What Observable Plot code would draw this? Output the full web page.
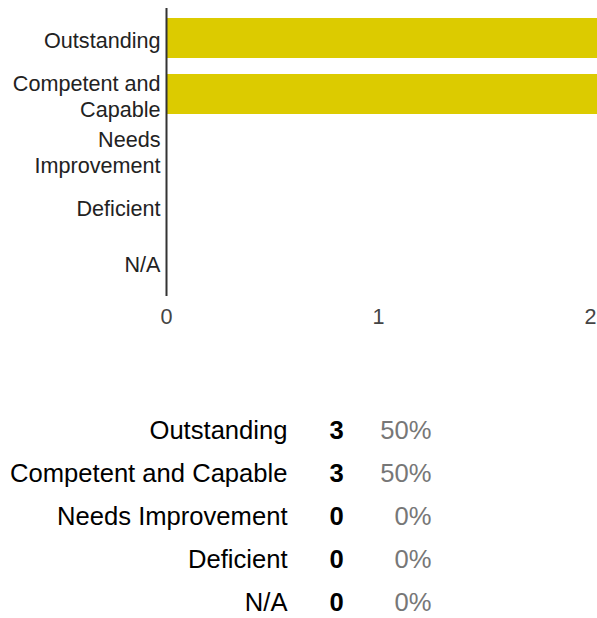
<!DOCTYPE html>
<html>
<head>
<meta charset="utf-8">
<script src="https://cdn.jsdelivr.net/npm/d3@7"></script>
<script src="https://cdn.jsdelivr.net/npm/@observablehq/plot@0.6"></script>
<style>
  html, body { margin: 0; padding: 0; background: #fff; overflow: hidden; }
  svg { display: block; }
</style>
</head>
<body>
<div id="chart"></div>
<div id="table"></div>
<script>
const categories = ["Outstanding", "Competent and Capable", "Needs Improvement", "Deficient", "N/A"];
const chartLabels = ["Outstanding", "Competent and\nCapable", "Needs\nImprovement", "Deficient", "N/A"];
const counts = [3, 3, 0, 0, 0];
const percents = ["50%", "50%", "0%", "0%", "0%"];
const xTicks = [0, 1, 2];

const data = categories.map((c, i) => ({category: c, label: chartLabels[i], count: counts[i], pct: percents[i]}));
const font = "'Liberation Sans', Arial, sans-serif";

const chart = Plot.plot({
  width: 597,
  height: 330,
  marginLeft: 166,
  marginRight: 7,
  marginTop: 10,
  marginBottom: 40,
  style: {fontFamily: font, fontSize: "21.6px", color: "#444", background: "#fff"},
  x: {domain: [0, 2], ticks: xTicks, tickFormat: d3.format("d"), tickSize: 0, tickPadding: 18, label: null},
  y: {domain: categories, paddingInner: 16 / 56, paddingOuter: 8 / 56, axis: null},
  marks: [
    Plot.barX(data, {x: "count", y: "category", fill: "#dccb00"}),
    Plot.ruleX([0], {stroke: "#333", strokeWidth: 2, insetTop: -2, insetBottom: -6}),
    Plot.text(data, {y: "category", text: "label", frameAnchor: "left", dx: -6, dy: 1, textAnchor: "end", lineHeight: 1.2, fill: "#222"})
  ]
});
document.getElementById("chart").appendChild(chart);

const table = Plot.plot({
  width: 597,
  height: 288,
  margin: 0,
  style: {fontFamily: font, fontSize: "25.6px", background: "#fff"},
  y: {type: "point", domain: categories, range: [98, 273], padding: 0, axis: null},
  marks: [
    Plot.text(data, {y: "category", text: "category", frameAnchor: "left", dx: 287, textAnchor: "end", fill: "#000"}),
    Plot.text(data, {y: "category", text: d => String(d.count), frameAnchor: "left", dx: 336, textAnchor: "middle", fill: "#000", fontWeight: "bold"}),
    Plot.text(data, {y: "category", text: "pct", frameAnchor: "left", dx: 431, textAnchor: "end", fill: "#777"})
  ]
});
document.getElementById("table").appendChild(table);
</script>
</body>
</html>
